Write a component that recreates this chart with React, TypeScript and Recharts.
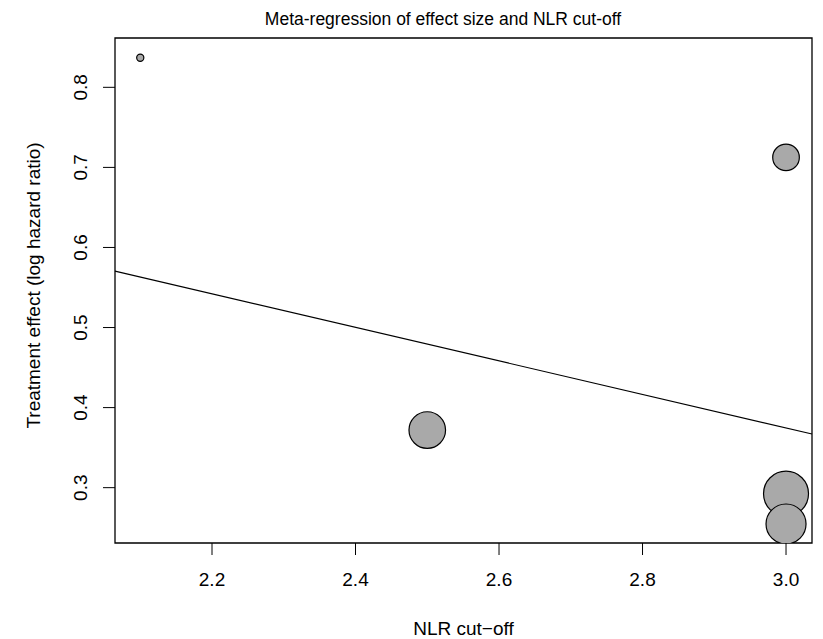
import {
  ScatterChart,
  Scatter,
  XAxis,
  YAxis,
  ZAxis,
  ReferenceArea,
  ReferenceLine,
} from 'recharts';

// studies: NLR cut-off, log hazard ratio, relative weight (%)
const cutoffs = [2.1, 3.0, 2.5, 3.0, 3.0];
const logHR = [0.837, 0.7125, 0.372, 0.2925, 0.2546];
const weights = [0.9, 12.4, 23.4, 35.4, 28.0];

// fitted meta-regression line, read at the plot edges
const fitX = [2.0648, 3.0362];
const fitY = [0.5704, 0.367];

const xTicks = [2.2, 2.4, 2.6, 2.8, 3.0];
const yTicks = [0.3, 0.4, 0.5, 0.6, 0.7, 0.8];

const X_DOMAIN: [number, number] = [2.0648, 3.0362];
const Y_DOMAIN: [number, number] = [0.2309, 0.8616];

const FONT = 'Liberation Sans, Arial, Helvetica, sans-serif';

const points = cutoffs.map((x, i) => ({ x, y: logHR[i], weight: weights[i] }));

const YTick = ({ x, y, payload }: any) => (
  <text
    x={x}
    y={y}
    transform={`rotate(-90, ${x}, ${y})`}
    textAnchor="middle"
    fontSize={19}
    fontFamily={FONT}
    fill="#000"
  >
    {payload.value.toFixed(1)}
  </text>
);

const Bubble = (p: any) => {
  const r = p.width ? p.width / 2 : Math.sqrt(p.size / Math.PI);
  return (
    <circle cx={p.cx} cy={p.cy} r={r} fill="#A9A9A9" stroke="#000" strokeWidth={1.2} />
  );
};

export default function App() {
  return (
    <div style={{ position: 'absolute', left: 0, top: 0, background: '#fff' }}>
      <ScatterChart
        width={823}
        height={639}
        margin={{ top: 38, right: 11, bottom: 0, left: 0 }}
      >
        <text
          x={443}
          y={25}
          textAnchor="middle"
          fontSize={17.5}
          fontFamily={FONT}
          fill="#000"
        >
          Meta-regression of effect size and NLR cut-off
        </text>
        <XAxis
          type="number"
          dataKey="x"
          domain={X_DOMAIN}
          ticks={xTicks}
          allowDataOverflow
          height={96}
          axisLine={false}
          tickSize={12}
          tickMargin={18}
          tickLine={{ stroke: '#000', strokeWidth: 1 }}
          tickFormatter={(v: number) => v.toFixed(1)}
          tick={{ fontSize: 19, fontFamily: FONT, fill: '#000' }}
          label={{
            content: ({ viewBox }: any) => (
              <text
                x={viewBox.x + viewBox.width / 2}
                y={viewBox.y + 92}
                textAnchor="middle"
                fontSize={19}
                fontFamily={FONT}
                fill="#000"
              >
                NLR cut−off
              </text>
            ),
          }}
        />
        <YAxis
          type="number"
          dataKey="y"
          domain={Y_DOMAIN}
          ticks={yTicks}
          allowDataOverflow
          width={115}
          axisLine={false}
          tickSize={12}
          tickMargin={16}
          tickLine={{ stroke: '#000', strokeWidth: 1 }}
          tick={<YTick />}
          label={{
            content: ({ viewBox }: any) => {
              const cx = 40;
              const cy = viewBox.y + viewBox.height / 2 - 5;
              return (
                <text
                  x={cx}
                  y={cy}
                  transform={`rotate(-90, ${cx}, ${cy})`}
                  textAnchor="middle"
                  fontSize={19}
                  fontFamily={FONT}
                  fill="#000"
                >
                  Treatment effect (log hazard ratio)
                </text>
              );
            },
          }}
        />
        <ZAxis type="number" dataKey="weight" domain={[0, 40]} range={[0, 1796]} />
        <ReferenceLine
          segment={[
            { x: fitX[0], y: fitY[0] },
            { x: fitX[1], y: fitY[1] },
          ]}
          stroke="#000"
          strokeWidth={1.2}
          ifOverflow="visible"
        />
        <Scatter
          data={points}
          shape={<Bubble />}
          isAnimationActive={false}
        />
        <ReferenceArea
          x1={X_DOMAIN[0]}
          x2={X_DOMAIN[1]}
          y1={Y_DOMAIN[0]}
          y2={Y_DOMAIN[1]}
          fill="none"
          fillOpacity={0}
          stroke="#000"
          strokeWidth={1.3}
          ifOverflow="visible"
        />
      </ScatterChart>
    </div>
  );
}
